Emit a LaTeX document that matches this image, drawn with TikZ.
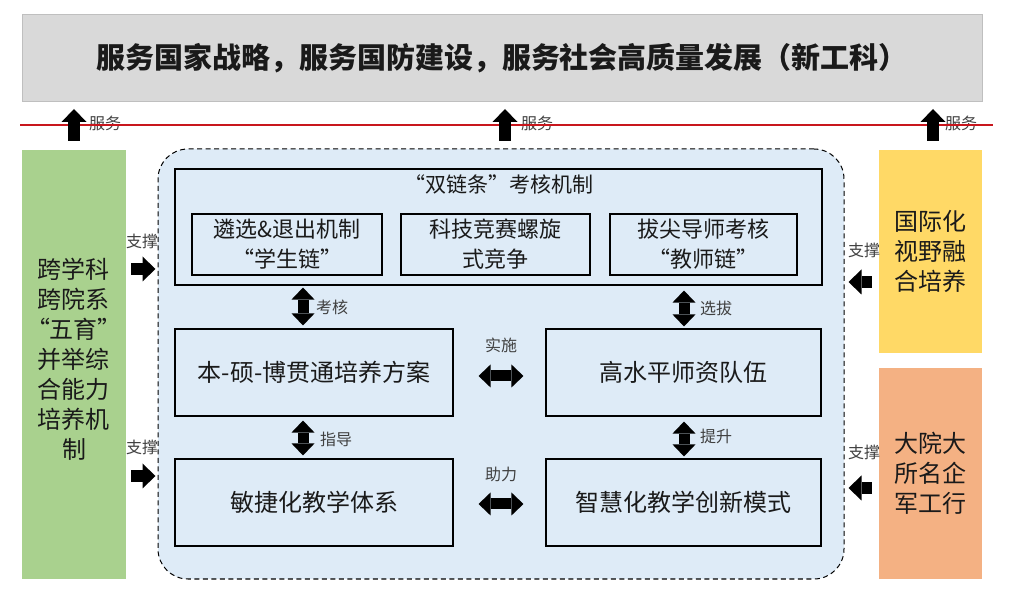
\documentclass[tikz,border=0pt]{standalone}
\usepackage{fontspec}
\setmainfont{Noto Sans CJK SC}
\usetikzlibrary{arrows.meta,calc}
\definecolor{topfill}{HTML}{D9D9D9}
\definecolor{topline}{HTML}{BFBFBF}
\definecolor{greenfill}{HTML}{A9D18E}
\definecolor{yellowfill}{HTML}{FFD966}
\definecolor{orangefill}{HTML}{F4B183}
\definecolor{bluefill}{HTML}{DEEBF7}
\definecolor{redline}{HTML}{C8161D}
\definecolor{labelgray}{HTML}{404040}
\definecolor{textdark}{HTML}{1A1A1A}
\tikzset{
  topbox/.style={draw=topline, line width=1pt, fill=topfill, inner sep=0pt},
  sidebox/.style={inner sep=0pt, align=center, text=textdark, font=\fontsize{24}{30}\selectfont},
  container/.style={draw=black, line width=1pt, dash pattern=on 5pt off 3.5pt, fill=bluefill, rounded corners=30pt, inner sep=0pt},
  chainbox/.style={draw=black, line width=1.1pt, inner sep=0pt},
  subbox/.style={draw=black, line width=1.1pt, inner sep=0pt, align=center, text=textdark, font=\fontsize{22}{30}\selectfont},
  midbox/.style={draw=black, line width=1.1pt, inner sep=0pt, text=textdark, font=\fontsize{24}{30}\selectfont},
  lbl/.style={inner sep=0pt, text=labelgray, font=\fontsize{16}{18}\selectfont},
  blockarrow/.style={line width=12pt, -{Triangle[width=25pt,length=13pt,line width=0pt]}},
  dblarrow/.style={line width=11pt, {Triangle[width=23pt,length=12pt,line width=0pt]}-{Triangle[width=23pt,length=12pt,line width=0pt]}},
  redrule/.style={draw=redline, line width=2pt}
}
\begin{document}
\begin{tikzpicture}[x=1pt,y=-1pt]
\useasboundingbox (0,0) rectangle (1029,609);
\fill[white] (0,0) rectangle (1029,609);

% top box
\node[topbox, minimum width=960pt, minimum height=87pt, font=\fontsize{29}{32}\selectfont\bfseries, text=textdark] (top) at (502,58.5) {服务国家战略，服务国防建设，服务社会高质量发展（新工科）};

% serve labels, red line, up arrows
\node[lbl] (s1) at (105,123) {服务};
\node[lbl] (s2) at (537,123) {服务};
\node[lbl] (s3) at (961,123) {服务};
\coordinate (rl) at (20,125);
\coordinate (rr) at (993,125);
\draw[redrule] (rl) -- (rr);
\coordinate (u1a) at (74,141); \coordinate (u1b) at (74,109);
\coordinate (u2a) at (505,141); \coordinate (u2b) at (505,109);
\coordinate (u3a) at (933,141); \coordinate (u3b) at (933,109);
\draw[blockarrow] (u1a) -- (u1b);
\draw[blockarrow] (u2a) -- (u2b);
\draw[blockarrow] (u3a) -- (u3b);

% side boxes
\node[sidebox, fill=greenfill, minimum width=104pt, minimum height=429pt, text depth=0pt] (green) at (74,364.5) {};
\node[sidebox, anchor=north] (greent) at (74,258) {跨学科\\跨院系\\“五育”\\并举综\\合能力\\培养机\\制};
\node[sidebox, fill=yellowfill, minimum width=103pt, minimum height=203pt] (yellow) at (930.5,251.5) {国际化\\视野融\\合培养};
\node[sidebox, fill=orangefill, minimum width=103pt, minimum height=211pt] (orange) at (930.5,473.5) {大院大\\所名企\\军工行};

% container
\node[container, minimum width=686pt, minimum height=430pt] (cont) at (501,364) {};

% chain box
\node[chainbox, minimum width=647pt, minimum height=116pt] (chain) at (498.5,227) {};
\node[inner sep=0pt, text=textdark, font=\fontsize{21}{24}\selectfont] (chaint) at (498.5,184) {“双链条”考核机制};
\node[subbox, minimum width=190pt, minimum height=61pt] (b1) at (287,244.5) {遴选\&退出机制\\“学生链”};
\node[subbox, minimum width=189pt, minimum height=61pt] (b2) at (495.5,244.5) {科技竞赛螺旋\\式竞争};
\node[subbox, minimum width=187pt, minimum height=61pt] (b3) at (703.5,244.5) {拔尖导师考核\\“教师链”};

% middle boxes
\node[midbox, minimum width=278pt, minimum height=87pt] (bm) at (314,372.5) {本-硕-博贯通培养方案};
\node[midbox, minimum width=275pt, minimum height=87pt] (gm) at (683.5,372.5) {高水平师资队伍};
\node[midbox, minimum width=278pt, minimum height=87pt] (mj) at (314,502.5) {敏捷化教学体系};
\node[midbox, minimum width=275pt, minimum height=87pt] (zh) at (683.5,502.5) {智慧化教学创新模式};

% vertical double arrows
\coordinate (kx) at (303,0);
\coordinate (xx) at (684,0);
\draw[dblarrow, shorten <=2pt, shorten >=3pt] (chain.south -| kx) -- (bm.north -| kx);
\draw[dblarrow, shorten <=5pt, shorten >=2pt] (chain.south -| xx) -- (gm.north -| xx);
\draw[dblarrow, shorten <=4pt, shorten >=3pt] (bm.south -| kx) -- (mj.north -| kx);
\draw[dblarrow, shorten <=5pt, shorten >=2pt] (gm.south -| xx) -- (zh.north -| xx);
\node[lbl] (l1) at (332,307) {考核};
\node[lbl] (l2) at (716,308) {选拔};
\node[lbl] (l3) at (336,439) {指导};
\node[lbl] (l4) at (716,436) {提升};

% horizontal double arrows
\coordinate (ry1) at (0,376);
\coordinate (ry2) at (0,504);
\draw[dblarrow, shorten <=25pt, shorten >=22pt] (bm.east |- ry1) -- (gm.west |- ry1);
\draw[dblarrow, shorten <=25pt, shorten >=22pt] (mj.east |- ry2) -- (zh.west |- ry2);
\node[lbl] (l5) at (501,345) {实施};
\node[lbl] (l6) at (501,474) {助力};

% support arrows
\coordinate (sy1) at (0,269);
\coordinate (sy2) at (0,476);
\coordinate (sy3) at (0,282);
\coordinate (sy4) at (0,488);
\draw[blockarrow, shorten <=5pt, shorten >=2pt] (green.east |- sy1) -- (cont.west |- sy1);
\draw[blockarrow, shorten <=5pt, shorten >=2pt] (green.east |- sy2) -- (cont.west |- sy2);
\draw[blockarrow, shorten <=7pt, shorten >=4pt] (yellow.west |- sy3) -- (cont.east |- sy3);
\draw[blockarrow, shorten <=7pt, shorten >=4pt] (orange.west |- sy4) -- (cont.east |- sy4);
\node[lbl] (l7) at (142,241) {支撑};
\node[lbl] (l8) at (142,447) {支撑};
\node[lbl] (l9) at (864,250) {支撑};
\node[lbl] (l10) at (864,452) {支撑};
\end{tikzpicture}
\end{document}
